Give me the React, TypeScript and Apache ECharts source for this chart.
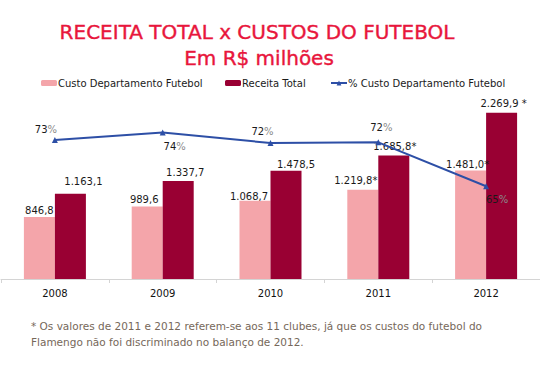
import React, { useEffect, useRef } from "react";
import * as echarts from "echarts";

const years = ["2008", "2009", "2010", "2011", "2012"];
const custoFutebol = [846.8, 989.6, 1068.7, 1219.8, 1481.0];
const receitaTotal = [1163.1, 1337.7, 1478.5, 1685.8, 2269.9];
const pctCusto = [72.8, 74.0, 72.3, 72.4, 65.2];
const custoNotes = ["", "", "", "*", "*"];
const receitaNotes = ["", "", "", "*", " *"];
const seriesNames = ["Custo Departamento Futebol", "Receita Total", "% Custo Departamento Futebol"];
const titleText = "RECEITA TOTAL x CUSTOS DO FUTEBOL";
const subtitleText = "Em R$ milhões";
const footnoteLines = [
  "* Os valores de 2011 e 2012 referem-se aos 11 clubes, já que os custos do futebol do",
  "Flamengo não foi discriminado no balanço de 2012.",
];

// label offsets (styling)
const custoOffsets = [[0, -2], [-3, -2], [-6, 1], [-7, -4], [-3, -1]];
const receitaOffsets = [[13, -7], [7, -4], [10, -1], [1, -4], [2, -4]];
const pctOffsets = [[-9, -2], [12, 22], [-8, -3], [3, -7], [11, 21]];

const FONT = "DejaVu Sans";

function fmtBR(v: number): string {
  const s = v.toFixed(1);
  const [intPart, dec] = s.split(".");
  const withDots = intPart.replace(/\B(?=(\d{3})+(?!\d))/g, ".");
  return withDots + "," + dec;
}

export default function App() {
  const ref = useRef<HTMLDivElement>(null);
  useEffect(() => {
    if (!ref.current) return;
    const chart = echarts.init(ref.current, null, { renderer: "svg" });
    const labelBase = { show: true, position: "top", distance: 0, fontFamily: FONT, fontSize: 10, color: "#1a1a1a" };
    const legendCommon = {
      top: 73,
      itemWidth: 16,
      itemHeight: 6,
      itemGap: 0,
      textStyle: { fontFamily: FONT, fontSize: 10, color: "#1a1a1a", padding: [0, 0, 0, -4] },
    };
    chart.setOption({
      animation: false,
      backgroundColor: "#ffffff",
      title: [
        {
          text: titleText,
          left: 252,
          textAlign: "center",
          top: 17,
          textStyle: { fontFamily: FONT, fontSize: 20, fontWeight: "normal", color: "#e8163c", textBorderColor: "#e8163c", textBorderWidth: 0.4 },
        },
        {
          text: subtitleText,
          left: 254,
          textAlign: "center",
          top: 43,
          textStyle: { fontFamily: FONT, fontSize: 20, fontWeight: "normal", color: "#e8163c", textBorderColor: "#e8163c", textBorderWidth: 0.4 },
        },
      ],
      legend: [
        { ...legendCommon, data: [seriesNames[0]], left: 36 },
        { ...legendCommon, data: [seriesNames[1]], left: 220 },
        { ...legendCommon, data: [seriesNames[2]], left: 325 },
      ],
      grid: { left: 1, top: 96, width: 543, height: 183, containLabel: false },
      xAxis: {
        type: "category",
        data: years,
        axisLine: { show: true, lineStyle: { color: "#d4d4d4", width: 1 } },
        axisTick: { show: true, length: 4, lineStyle: { color: "#d4d4d4" } },
        axisLabel: { fontFamily: FONT, fontSize: 10, color: "#111", margin: 9 },
      },
      yAxis: [
        { type: "value", min: 0, max: 2500, show: false, splitLine: { show: false } },
        { type: "value", min: 50, max: 80, show: false, splitLine: { show: false } },
      ],
      series: [
        {
          name: seriesNames[0],
          type: "bar",
          barWidth: 31,
          barGap: "0%",
          itemStyle: { color: "#f4a5aa" },
          data: custoFutebol.map((v, i) => ({
            value: v,
            label: {
              ...labelBase,
              offset: custoOffsets[i],
              formatter: () => fmtBR(v) + custoNotes[i],
            },
          })),
        },
        {
          name: seriesNames[1],
          type: "bar",
          barWidth: 31,
          barGap: "0%",
          itemStyle: { color: "#990033" },
          data: receitaTotal.map((v, i) => ({
            value: v,
            label: {
              ...labelBase,
              offset: receitaOffsets[i],
              formatter: () => fmtBR(v) + receitaNotes[i],
            },
          })),
        },
        {
          name: seriesNames[2],
          type: "line",
          yAxisIndex: 1,
          symbol: "triangle",
          symbolSize: 6,
          lineStyle: { color: "#2d4fa6", width: 2 },
          itemStyle: { color: "#2d4fa6" },
          data: pctCusto.map((v, i) => ({
            value: v,
            label: {
              show: true,
              position: "top",
              distance: 0,
              offset: pctOffsets[i],
              formatter: () => "{n|" + Math.round(v) + "}{p|%}",
              rich: {
                n: { fontFamily: FONT, fontSize: 10, color: "#1a1a1a" },
                p: { fontFamily: FONT, fontSize: 10, color: "#8a8a8a" },
              },
            },
          })),
          z: 5,
        },
      ],
      graphic: footnoteLines.map((t, i) => ({
        type: "text",
        left: 31,
        top: 320 + i * 16,
        style: {
          text: t,
          fontFamily: FONT,
          fontSize: 10.5,
          fill: "#76685a",
        },
      })),
    });
    return () => chart.dispose();
  }, []);
  return <div ref={ref} style={{ width: 540, height: 390, position: "absolute", left: 0, top: 0 }} />;
}
